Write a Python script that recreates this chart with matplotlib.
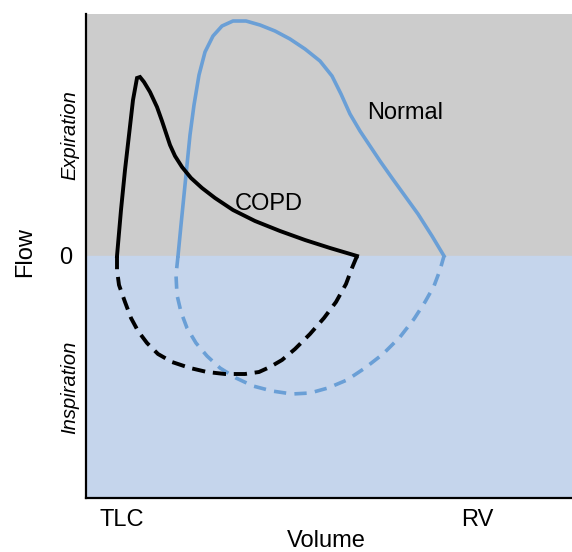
import numpy as np
import matplotlib.pyplot as plt

plt.rcParams['font.family'] = ['Liberation Sans', 'DejaVu Sans']

# flow-volume loops, schematic units (volume from left axis, flow + expiration)
copd_exp_vol = [31, 35, 39, 43, 47, 51, 54, 58, 64, 71, 76, 80, 84, 89, 96, 105, 116, 129, 147, 169, 194, 219, 244, 271]
copd_exp_flow = [0, 46, 86, 121, 156, 178, 179, 174, 164, 149, 135, 123, 111, 100, 89, 78, 68, 58, 46, 35, 25, 16, 8, 0]

copd_insp_vol = [31, 31, 33, 39, 45, 52, 61, 72, 86, 104, 121, 139, 159, 173, 184, 196, 209, 224, 238, 250, 260, 266, 271]
copd_insp_flow = [0, -14, -29, -46, -62, -75, -87, -98, -106, -112, -116, -118, -118, -116, -111, -104, -93, -78, -62, -46, -28, -12, 0]

norm_exp_vol = [92, 95, 98, 101, 104, 108, 113, 119, 127, 136, 147, 160, 174, 189, 204, 219, 234, 246, 255, 264, 274, 284, 294, 306, 319, 332, 346, 358]
norm_exp_flow = [0, 31, 61, 91, 121, 151, 181, 204, 220, 230, 235, 235, 231, 225, 217, 207, 195, 180, 162, 142, 125, 110, 95, 78, 60, 42, 20, 0]

norm_insp_vol = [92, 90, 91, 95, 101, 110, 121, 134, 150, 167, 186, 206, 224, 242, 261, 279, 297, 314, 328, 339, 348, 354, 358]
norm_insp_flow = [0, -19, -39, -56, -72, -87, -100, -112, -122, -130, -135, -138, -137, -132, -124, -112, -98, -81, -63, -46, -30, -14, 0]

x_ticks = [36, 391]
x_labels = ['TLC', 'RV']

black = '#000000'
blue = '#6a9fd6'

fig = plt.figure(figsize=(5.72, 5.52), dpi=100)
ax = fig.add_axes([86 / 572, 54 / 552, 486 / 572, 484 / 552])
ax.set_xlim(0, 486)
ax.set_ylim(-242, 242)

ax.axhspan(0, 242, color='#cccccc', zorder=0)
ax.axhspan(-242, 0, color='#c5d5ec', zorder=0)

ax.plot(norm_exp_vol, norm_exp_flow, color=blue, lw=2.6, solid_joinstyle='round')
ax.plot(norm_insp_vol, norm_insp_flow, color=blue, lw=2.6, linestyle=(0, (3.4, 2.3)))
ax.plot(copd_exp_vol, copd_exp_flow, color=black, lw=2.8, solid_joinstyle='miter')
ax.plot(copd_insp_vol, copd_insp_flow, color=black, lw=2.8, linestyle=(0, (3.4, 2.0)))

ax.text(319, 143, 'Normal', fontsize=17, ha='center', va='center')
ax.text(183, 52, 'COPD', fontsize=17, ha='center', va='center')

for s in ['top', 'right']:
    ax.spines[s].set_visible(False)
for s in ['left', 'bottom']:
    ax.spines[s].set_linewidth(1.6)

ax.set_xticks(x_ticks)
ax.set_xticklabels(x_labels, fontsize=17)
ax.set_yticks([0])
ax.set_yticklabels(['0'], fontsize=17)
ax.tick_params(length=0, pad=8)
ax.tick_params(axis='y', pad=10)

ax.text(-0.033, 0.75, 'Expiration', transform=ax.transAxes, rotation=90,
        fontsize=14.5, style='italic', ha='center', va='center')
ax.text(-0.033, 0.228, 'Inspiration', transform=ax.transAxes, rotation=90,
        fontsize=14.5, style='italic', ha='center', va='center')
fig.text(25 / 572, 1 - 252 / 552, 'Flow', rotation=90, fontsize=17, ha='center', va='center')
fig.text(326 / 572, 1 - 541 / 552, 'Volume', fontsize=17, ha='center', va='center')

fig.savefig('out.png', dpi=100)
